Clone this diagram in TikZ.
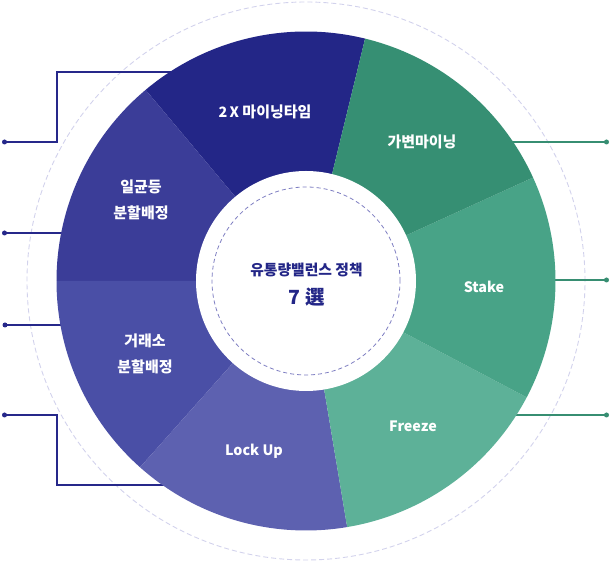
\documentclass[tikz,border=0pt]{standalone}
\usepackage{fontspec}
\setmainfont{Noto Sans CJK KR}
\definecolor{segA}{HTML}{232687}
\definecolor{segB}{HTML}{3B3D98}
\definecolor{segC}{HTML}{4A4FA6}
\definecolor{segD}{HTML}{5D61B0}
\definecolor{segE}{HTML}{5DB198}
\definecolor{segF}{HTML}{48A387}
\definecolor{segG}{HTML}{368F73}
\definecolor{lineL}{HTML}{26288A}
\definecolor{lineR}{HTML}{378E72}
\definecolor{ringO}{HTML}{D2D2EC}
\definecolor{ringI}{HTML}{7E7EC2}
\begin{document}
\begin{tikzpicture}[x=1pt,y=1pt,
  seglabel/.style={text=white,font=\fontsize{15}{26}\selectfont\bfseries,align=center,inner sep=0pt},
  latlabel/.style={seglabel,font=\fontsize{14.3}{26}\selectfont\bfseries},
  dotL/.style={circle,fill=lineL,minimum size=5pt,inner sep=0pt},
  dotR/.style={circle,fill=lineR,minimum size=5pt,inner sep=0pt},
  connL/.style={draw=lineL,line width=1.2pt},
  connR/.style={draw=lineR,line width=1.2pt}]
\useasboundingbox (0,0) rectangle (611,561);
\coordinate (C) at (306,280);
% outer dashed ring
\draw[ringO,line width=0.9pt,dash pattern=on 5pt off 3pt] (C) circle[radius=279pt];
% connectors
\node[dotL] (dl1) at (4.5,419) {};
\node[dotL] (dl2) at (4.5,328) {};
\node[dotL] (dl3) at (5,236) {};
\node[dotL] (dl4) at (4.5,146) {};
\node[dotR] (dr1) at (606.5,419) {};
\node[dotR] (dr2) at (606.5,281) {};
\node[dotR] (dr3) at (606.5,146) {};
\coordinate (el1) at (185,489);
\coordinate (el2) at (75,328);
\coordinate (el3) at (75,236);
\coordinate (el4) at (180,76);
\coordinate (er1) at (495,419);
\coordinate (er2) at (540,281);
\coordinate (er3) at (495,146);
\draw[connL] (dl1.center) -- (57,419) -- (57,489) -- (el1);
\draw[connL] (dl2.center) -- (el2);
\draw[connL] (dl3.center) -- (el3);
\draw[connL] (dl4.center) -- (57,146) -- (57,76) -- (el4);
\draw[connR] (dr1.center) -- (er1);
\draw[connR] (dr2.center) -- (er2);
\draw[connR] (dr3.center) -- (er3);
% sectors
\foreach \a/\b/\c in {76.3/130/segA,130/180/segB,180/228.3/segC,228.3/279.5/segD,279.5/332.2/segE,332.2/384.5/segF,24.5/76.3/segG}{
  \fill[\c] (C) -- ++(\a:249.5pt) arc[start angle=\a,end angle=\b,radius=249.5pt] -- cycle;
}
% center
\fill[white] (C) circle[radius=110pt];
\draw[ringI,line width=0.8pt,dash pattern=on 4pt off 3pt] (C) circle[radius=94pt];
% labels
\node[seglabel] (t1) at (265,449.5) {{\fontsize{14.3}{16}\selectfont 2\,X} 마이닝타임};
\node[seglabel] (t2) at (422,419) {가변마이닝};
\node[seglabel] (t3) at (141,361) {일균등\\분할배정};
\node[seglabel] (t4) at (145,207.5) {거래소\\분할배정};
\node[latlabel] (t5) at (484,274.5) {Stake};
\node[latlabel] (t6) at (413,135) {Freeze};
\node[latlabel] (t7) at (254,110) {Lock Up};
\node[text=segA,font=\fontsize{14.8}{16}\selectfont\bfseries,inner sep=0pt] (m1) at (306.5,291) {유통량밸런스 정책};
\node[text=segA,font=\fontsize{19.5}{22}\selectfont\bfseries,inner sep=0pt] (m2) at (306.7,264) {7 選};
\end{tikzpicture}
\end{document}
